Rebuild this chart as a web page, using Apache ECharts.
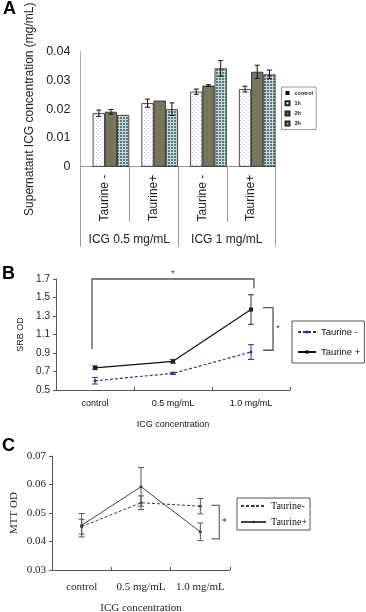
<!DOCTYPE html>
<html><head><meta charset="utf-8">
<script src="https://cdn.jsdelivr.net/npm/echarts@6/dist/echarts.min.js"></script>
<style>html,body{margin:0;padding:0;background:#fff}#c{width:366px;height:612px}</style>
</head><body><div id="c"></div>
<script>
// ---------- Panel A data ----------
const groupsA = ['Taurine -', 'Taurine+', 'Taurine -', 'Taurine+'];
const concA = ['ICG 0.5 mg/mL', 'ICG 1 mg/mL'];
const timesA = ['control', '1h', '2h', '3h'];
const controlA = [0, 0, 0, 0];
const h1A = [0.0186, 0.0221, 0.0261, 0.0270];
const h2A = [0.0191, 0.0230, 0.0282, 0.0330];
const h3A = [0.0180, 0.0200, 0.0342, 0.0321];
const h1ErrA = [0.0011, 0.0014, 0.0009, 0.0010];
const h2ErrA = [0.0008, 0, 0.0003, 0.0023];
const h3ErrA = [0, 0.0022, 0.0027, 0.0015];

// ---------- Panel B data ----------
const catsB = ['control', '0.5 mg/mL', '1.0 mg/mL'];
const seriesNamesB = ['Taurine -', 'Taurine +'];
const taurMinusB = [0.60, 0.68, 0.91];
const taurMinusErrB = [0.035, 0.012, 0.08];
const taurPlusB = [0.74, 0.81, 1.37];
const taurPlusErrB = [0.02, 0.02, 0.16];
const bracketTopB = [0.94, 1.7, 1.6];     // left foot, top, right foot
const bracketRightB = [1.39, 0.93];       // top, bottom

// ---------- Panel C data ----------
const catsC = ['control', '0.5 mg/mL', '1.0 mg/mL'];
const seriesNamesC = ['Taurine-', 'Taurine+'];
const taurMinusC = [0.0452, 0.0536, 0.0524];
const taurMinusErrC = [0.0026, 0.0024, 0.0027];
const taurPlusC = [0.0457, 0.0592, 0.0434];
const taurPlusErrC = [0.0041, 0.0068, 0.0031];
const bracketC = [0.0527, 0.0409];

// ---------- styling helpers ----------
const SANS = 'Liberation Sans';
const SERIF = 'Liberation Serif';
function pat(w, h, draw) {
  const c = document.createElement('canvas'); c.width = w; c.height = h;
  draw(c.getContext('2d')); return c;
}
const dotPat = pat(4, 4, g => { g.fillStyle = '#fff'; g.fillRect(0, 0, 4, 4); g.fillStyle = '#d6d6d6'; g.fillRect(0, 0, 1, 1); g.fillRect(2, 2, 1, 1); });
const checkPat = pat(3, 3, g => { g.fillStyle = '#587a7e'; g.fillRect(0, 0, 3, 3); g.fillStyle = '#c8d6d6'; g.fillRect(0, 2, 3, 1); g.fillRect(2, 0, 1, 3); });

function errData(vals, errs, slot) {
  const out = [];
  vals.forEach((v, i) => { if (errs[i] > 0) out.push(slot === undefined ? [i, v - errs[i], v + errs[i]] : [i, v - errs[i], v + errs[i], slot]); });
  return out;
}
function line(x1, y1, x2, y2, color, w) {
  return { type: 'line', shape: { x1, y1, x2, y2 }, style: { stroke: color, lineWidth: w || 1 } };
}
function errRender(color, cap, slots) {
  return function (params, api) {
    const x = api.value(0);
    const hi = api.coord([x, api.value(2)]);
    const lo = api.coord([x, api.value(1)]);
    let px = hi[0];
    if (slots) { const bw = api.size([1, 0])[0] / slots; px += (api.value(3) - (slots - 1) / 2) * bw; }
    return { type: 'group', children: [
      line(px, hi[1], px, lo[1], color),
      line(px - cap, hi[1], px + cap, hi[1], color),
      line(px - cap, lo[1], px + cap, lo[1], color)
    ] };
  };
}

const chart = echarts.init(document.getElementById('c'), null, { renderer: 'canvas' });

const barStyle = (color) => ({ color, borderColor: '#222', borderWidth: 0.8 });

const option = {
  animation: false,
  backgroundColor: '#fff',
  graphic: [
    { type: 'text', left: 3, top: 0, style: { text: 'A', fontSize: 18, fontWeight: 'bold', fontFamily: SANS, fill: '#000' } },
    { type: 'text', left: 2, top: 265, style: { text: 'B', fontSize: 18, fontWeight: 'bold', fontFamily: SANS, fill: '#000' } },
    { type: 'text', left: 2, top: 437, style: { text: 'C', fontSize: 18, fontWeight: 'bold', fontFamily: SANS, fill: '#000' } }
  ],
  grid: [
    { left: 80.5, top: 51.7, width: 195, height: 115, outerBoundsMode: 'none' },
    { left: 56, top: 279, width: 234, height: 111, outerBoundsMode: 'none' },
    { left: 52, top: 456, width: 178, height: 114, outerBoundsMode: 'none' }
  ],
  legend: [
    { orient: 'vertical', left: 281.5, top: 87, data: timesA, icon: 'rect', itemWidth: 4, itemHeight: 4, itemGap: 3.2,
      padding: [2.5, 3, 2.5, 3], borderColor: '#999', borderWidth: 1, selectedMode: false,
      textStyle: { fontSize: 5.5, lineHeight: 7, fontWeight: 'bold', fontFamily: SANS, color: '#222' } },
    { orient: 'vertical', left: 292, top: 321, data: seriesNamesB, itemWidth: 18, itemHeight: 4, itemGap: 8,
      padding: [5, 4, 5, 5], borderColor: '#555', borderWidth: 1, selectedMode: false,
      textStyle: { fontSize: 9.5, lineHeight: 12, fontFamily: SANS, color: '#111' } },
    { orient: 'vertical', left: 237, top: 498, data: seriesNamesC, itemWidth: 25, itemHeight: 3, itemGap: 5,
      padding: [2.5, 3, 2.5, 3], borderColor: '#555', borderWidth: 1, selectedMode: false,
      textStyle: { fontSize: 10, lineHeight: 11, fontFamily: SERIF, color: '#111' } }
  ],
  xAxis: [
    { gridIndex: 0, type: 'category', data: groupsA, position: 'bottom',
      axisLine: { show: true, lineStyle: { color: '#999', width: 1 } },
      axisTick: { show: true, length: 55, interval: 0, lineStyle: { color: '#999' } },
      axisLabel: { interval: 0, rotate: 90, margin: 8, fontSize: 12, fontFamily: SANS, color: '#222' },
      splitLine: { show: false } },
    { gridIndex: 0, type: 'category', data: concA, position: 'bottom', offset: 0,
      axisLine: { show: false },
      axisTick: { show: true, length: 80, interval: 0, lineStyle: { color: '#999' } },
      axisLabel: { interval: 0, margin: 67, fontSize: 12, fontFamily: SANS, color: '#222' },
      splitLine: { show: false } },
    { gridIndex: 1, type: 'category', data: catsB, boundaryGap: true,
      axisLine: { show: true, lineStyle: { color: '#555', width: 1 } },
      axisTick: { show: true, length: 3, inside: true, lineStyle: { color: '#555' } },
      axisLabel: { interval: 0, margin: 9, fontSize: 9, fontFamily: SANS, color: '#111' },
      name: 'ICG concentration', nameLocation: 'middle', nameGap: 30,
      nameTextStyle: { fontSize: 9, fontFamily: SANS, color: '#111' },
      splitLine: { show: false } },
    { gridIndex: 2, type: 'category', data: catsC, boundaryGap: true,
      axisLine: { show: true, lineStyle: { color: '#555', width: 1 } },
      axisTick: { show: true, length: 3, inside: true, lineStyle: { color: '#555' } },
      axisLabel: { interval: 0, margin: 12, fontSize: 11, fontFamily: SERIF, color: '#222' },
      name: 'ICG concentration', nameLocation: 'middle', nameGap: 33,
      nameTextStyle: { fontSize: 11, fontFamily: SERIF, color: '#222' },
      splitLine: { show: false } }
  ],
  yAxis: [
    { gridIndex: 0, type: 'value', min: 0, max: 0.04, interval: 0.01,
      axisLine: { show: true, lineStyle: { color: '#aaa' } }, axisTick: { show: false },
      axisLabel: { margin: 10, fontSize: 12.5, fontFamily: SANS, color: '#222', formatter: v => v === 0 ? '0' : v.toFixed(2) },
      splitLine: { show: false },
      name: 'Supernatant ICG concentration (mg/mL)', nameLocation: 'middle', nameGap: 39, nameRotate: 90,
      nameTextStyle: { fontSize: 12, fontFamily: SANS, color: '#222' } },
    { gridIndex: 1, type: 'value', min: 0.5, max: 1.7, interval: 0.2,
      axisLine: { show: true, lineStyle: { color: '#555' } },
      axisTick: { show: true, length: 3, lineStyle: { color: '#555' } },
      axisLabel: { margin: 6, fontSize: 10, fontFamily: SANS, color: '#222', formatter: v => v.toFixed(1) },
      splitLine: { show: false },
      name: 'SRB OD', nameLocation: 'middle', nameGap: 27, nameRotate: 90,
      nameTextStyle: { fontSize: 9, fontFamily: SANS, color: '#222' } },
    { gridIndex: 2, type: 'value', min: 0.03, max: 0.07, interval: 0.01,
      axisLine: { show: true, lineStyle: { color: '#555' } },
      axisTick: { show: true, length: 3, lineStyle: { color: '#555' } },
      axisLabel: { margin: 6, fontSize: 11, fontFamily: SERIF, color: '#222', formatter: v => v.toFixed(2) },
      splitLine: { show: false },
      name: 'MTT OD', nameLocation: 'middle', nameGap: 32, nameRotate: 90,
      nameTextStyle: { fontSize: 11, fontFamily: SERIF, color: '#222' } }
  ],
  series: [
    // Panel A bars
    { name: 'control', type: 'bar', xAxisIndex: 0, yAxisIndex: 0, data: controlA, barGap: '0%', barCategoryGap: '0%',
      itemStyle: { color: '#000', borderWidth: 0 } },
    { name: '1h', type: 'bar', xAxisIndex: 0, yAxisIndex: 0, data: h1A, barGap: '0%', barCategoryGap: '0%',
      itemStyle: barStyle({ image: dotPat, repeat: 'repeat' }) },
    { name: '2h', type: 'bar', xAxisIndex: 0, yAxisIndex: 0, data: h2A, barGap: '0%', barCategoryGap: '0%',
      itemStyle: barStyle('#78755d') },
    { name: '3h', type: 'bar', xAxisIndex: 0, yAxisIndex: 0, data: h3A, barGap: '0%', barCategoryGap: '0%',
      itemStyle: barStyle({ image: checkPat, repeat: 'repeat' }) },
    { type: 'custom', xAxisIndex: 0, yAxisIndex: 0, z: 5, encode: { x: 0, y: [1, 2] },
      data: [].concat(errData(h1A, h1ErrA, 1), errData(h2A, h2ErrA, 2), errData(h3A, h3ErrA, 3)),
      renderItem: errRender('#111', 2.5, 4) },

    // Panel B lines
    { name: 'Taurine -', type: 'line', xAxisIndex: 2, yAxisIndex: 1, data: taurMinusB,
      symbol: 'circle', symbolSize: 3, itemStyle: { color: '#35358f' },
      lineStyle: { color: '#35358f', width: 1.2, type: [3, 2] } },
    { name: 'Taurine +', type: 'line', xAxisIndex: 2, yAxisIndex: 1, data: taurPlusB,
      symbol: 'rect', symbolSize: 4, itemStyle: { color: '#111' },
      lineStyle: { color: '#111', width: 1.2 } },
    { type: 'custom', xAxisIndex: 2, yAxisIndex: 1, z: 5, encode: { x: 0, y: [1, 2] },
      data: errData(taurMinusB, taurMinusErrB), renderItem: errRender('#35358f', 3) },
    { type: 'custom', xAxisIndex: 2, yAxisIndex: 1, z: 5, encode: { x: 0, y: [1, 2] },
      data: errData(taurPlusB, taurPlusErrB), renderItem: errRender('#333', 3) },
    { type: 'custom', xAxisIndex: 2, yAxisIndex: 1, z: 4, encode: { x: 0, y: 1 },
      data: [[0, bracketTopB[1]]],
      renderItem: function (params, api) {
        const L = api.coord([0, bracketTopB[1]]), R = api.coord([2, bracketTopB[1]]);
        const lf = api.coord([0, bracketTopB[0]]), rf = api.coord([2, bracketTopB[2]]);
        const rt = api.coord([2, bracketRightB[0]]), rb = api.coord([2, bracketRightB[1]]);
        const st = { stroke: '#555', lineWidth: 1.3, fill: null };
        return { type: 'group', children: [
          { type: 'polyline', shape: { points: [[L[0] - 3, lf[1]], [L[0] - 3, L[1]], [R[0] + 3, R[1]], [R[0] + 3, rf[1]]] }, style: st },
          { type: 'polyline', shape: { points: [[R[0] + 12, rt[1]], [R[0] + 22, rt[1]], [R[0] + 22, rb[1]], [R[0] + 12, rb[1]]] }, style: st },
          { type: 'text', style: { text: '*', x: (L[0] + R[0]) / 2, y: L[1] - 1, align: 'center', verticalAlign: 'bottom', fontSize: 9, fontFamily: SANS, fill: '#333' } },
          { type: 'text', style: { text: '*', x: R[0] + 27, y: (rt[1] + rb[1]) / 2, align: 'center', verticalAlign: 'middle', fontSize: 9, fontFamily: SANS, fill: '#333' } }
        ] };
      } },

    // Panel C lines
    { name: 'Taurine-', type: 'line', xAxisIndex: 3, yAxisIndex: 2, data: taurMinusC,
      symbol: 'circle', symbolSize: 3, itemStyle: { color: '#2a2a55' },
      lineStyle: { color: '#3a3a66', width: 1, type: [3, 2] } },
    { name: 'Taurine+', type: 'line', xAxisIndex: 3, yAxisIndex: 2, data: taurPlusC,
      symbol: 'circle', symbolSize: 3, itemStyle: { color: '#222' },
      lineStyle: { color: '#444', width: 1 } },
    { type: 'custom', xAxisIndex: 3, yAxisIndex: 2, z: 5, encode: { x: 0, y: [1, 2] },
      data: errData(taurMinusC, taurMinusErrC), renderItem: errRender('#555', 3) },
    { type: 'custom', xAxisIndex: 3, yAxisIndex: 2, z: 5, encode: { x: 0, y: [1, 2] },
      data: errData(taurPlusC, taurPlusErrC), renderItem: errRender('#555', 3) },
    { type: 'custom', xAxisIndex: 3, yAxisIndex: 2, z: 4, encode: { x: 0, y: 1 },
      data: [[2, bracketC[0]]],
      renderItem: function (params, api) {
        const t = api.coord([2, bracketC[0]]), b = api.coord([2, bracketC[1]]);
        const st = { stroke: '#666', lineWidth: 1.2, fill: null };
        return { type: 'group', children: [
          { type: 'polyline', shape: { points: [[t[0] + 11, t[1]], [t[0] + 19, t[1]], [t[0] + 19, b[1]], [t[0] + 11, b[1]]] }, style: st },
          { type: 'text', style: { text: '*', x: t[0] + 24, y: (t[1] + b[1]) / 2, align: 'center', verticalAlign: 'middle', fontSize: 10, fontFamily: SERIF, fill: '#333' } }
        ] };
      } }
  ]
};
chart.setOption(option);
</script>
</body></html>
